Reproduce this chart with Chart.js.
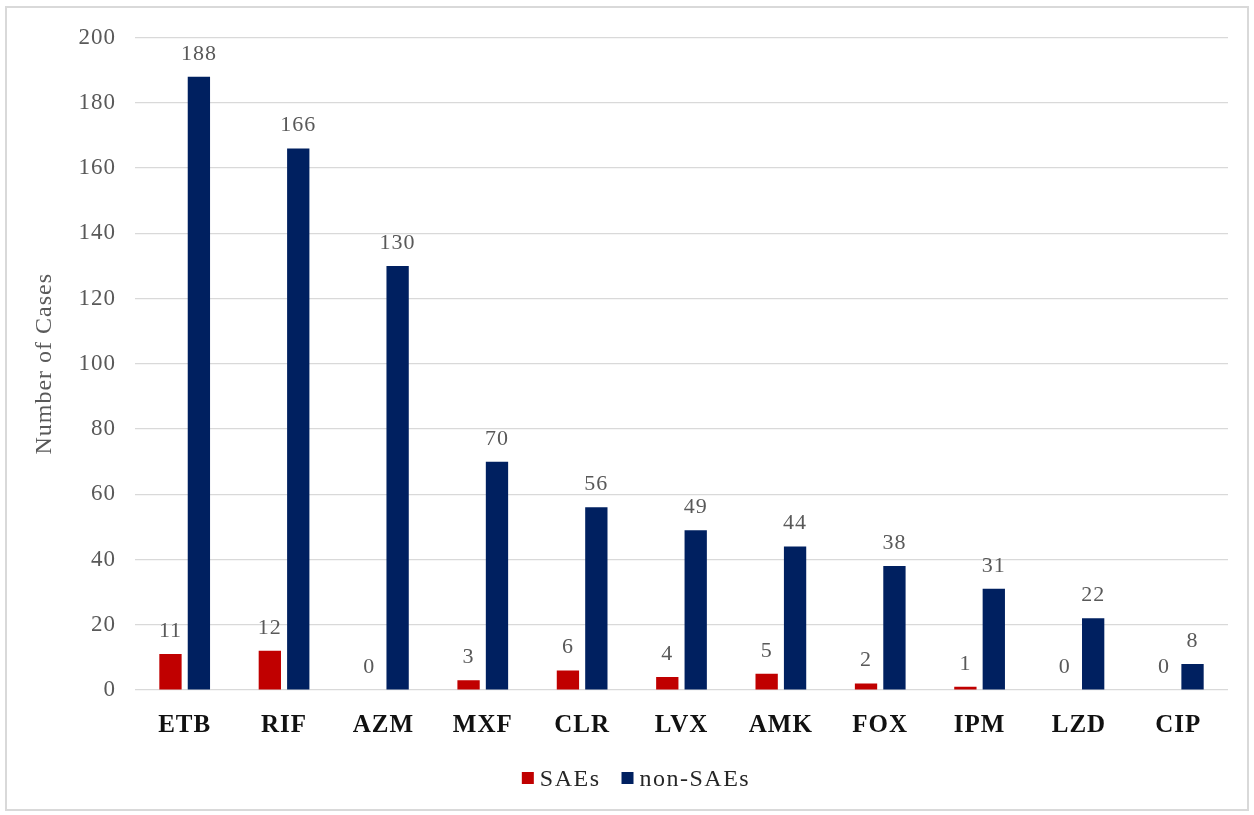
<!DOCTYPE html>
<html>
<head>
<meta charset="utf-8">
<script src="https://cdn.jsdelivr.net/npm/chart.js@4.4.1/dist/chart.umd.min.js"></script>
<style>
  html, body { margin: 0; padding: 0; background: #fff; }
  #frame { position: absolute; left: 5px; top: 6px; width: 1244px; height: 805px; border: 2px solid #d9d9d9; box-sizing: border-box; }
  #wrap { position: absolute; left: 0; top: 0; width: 1254px; height: 815px; }
</style>
</head>
<body>
<div id="frame"></div>
<div id="wrap"><canvas id="c" width="1254" height="815"></canvas></div>
<script>
const drugs = ['ETB', 'RIF', 'AZM', 'MXF', 'CLR', 'LVX', 'AMK', 'FOX', 'IPM', 'LZD', 'CIP'];
const saes = [11, 12, 0, 3, 6, 4, 5, 2, 1, 0, 0];
const nonSaes = [188, 166, 130, 70, 56, 49, 44, 38, 31, 22, 8];
const yTicks = [0, 20, 40, 60, 80, 100, 120, 140, 160, 180, 200];

const SERIF = '"Liberation Serif", "Times New Roman", serif';

// Slightly open tracking for all canvas text (re-applied after any canvas resize)
const tracking = {
  id: 'tracking',
  beforeUpdate(chart) { chart.ctx.letterSpacing = '1px'; },
  beforeDraw(chart) { chart.ctx.letterSpacing = '1px'; }
};

// Value labels above each bar
const valueLabels = {
  id: 'valueLabels',
  afterDatasetsDraw(chart) {
    const ctx = chart.ctx;
    ctx.save();
    ctx.font = '22px ' + SERIF;
    ctx.fillStyle = '#595959';
    ctx.textAlign = 'center';
    ctx.textBaseline = 'alphabetic';
    chart.data.datasets.forEach((ds, i) => {
      const meta = chart.getDatasetMeta(i);
      meta.data.forEach((bar, j) => {
        ctx.fillText(String(ds.data[j]), bar.x, bar.y - 17);
      });
    });
    ctx.restore();
  }
};

// Legend row under the category labels, built from the datasets
const bottomLegend = {
  id: 'bottomLegend',
  afterDraw(chart) {
    const ctx = chart.ctx;
    const box = 12, boxGap = 6, itemGap = 21;
    const centerX = 636, baseline = 786;
    ctx.save();
    ctx.font = '24px ' + SERIF;
    ctx.letterSpacing = '1.5px';
    const items = chart.data.datasets.map(ds => ({
      label: ds.label, color: ds.backgroundColor, w: ctx.measureText(ds.label).width
    }));
    const total = items.reduce((s, it) => s + box + boxGap + it.w, 0) + itemGap * (items.length - 1);
    let x = centerX - total / 2;
    ctx.textBaseline = 'alphabetic';
    ctx.textAlign = 'left';
    items.forEach(it => {
      ctx.fillStyle = it.color;
      ctx.fillRect(x, baseline - 14, box, box);
      x += box + boxGap;
      ctx.fillStyle = '#262626';
      ctx.fillText(it.label, x, baseline);
      x += it.w + itemGap;
    });
    ctx.restore();
  }
};

new Chart(document.getElementById('c'), {
  type: 'bar',
  data: {
    labels: drugs,
    datasets: [
      { label: 'SAEs', data: saes, backgroundColor: '#C00000', categoryPercentage: 0.572, barPercentage: 0.785 },
      { label: 'non-SAEs', data: nonSaes, backgroundColor: '#002060', categoryPercentage: 0.572, barPercentage: 0.785 }
    ]
  },
  options: {
    responsive: false,
    animation: false,
    layout: { padding: { left: 0, right: 26, top: 37.5, bottom: 65 } },
    plugins: {
      legend: { display: false },
      tooltip: { enabled: false }
    },
    scales: {
      x: {
        grid: { display: false, drawTicks: false },
        border: { display: false },
        ticks: { font: { family: SERIF, size: 25, weight: 'bold' }, color: '#111', padding: 21 },
        afterFit(scale) { scale.height = 60; }
      },
      y: {
        min: 0,
        max: 200,
        afterBuildTicks(scale) { scale.ticks = yTicks.map(v => ({ value: v })); },
        grid: { color: '#d9d9d9', lineWidth: 1.2, drawTicks: false },
        border: { display: false },
        ticks: { font: { family: SERIF, size: 23 }, color: '#595959', padding: 19 },
        title: { display: true, text: 'Number of Cases', font: { family: SERIF, size: 24 }, color: '#595959', padding: { top: 30, bottom: 0 } },
        afterFit(scale) { scale.width = 135; }
      }
    }
  },
  plugins: [tracking, valueLabels, bottomLegend]
});
</script>
</body>
</html>
